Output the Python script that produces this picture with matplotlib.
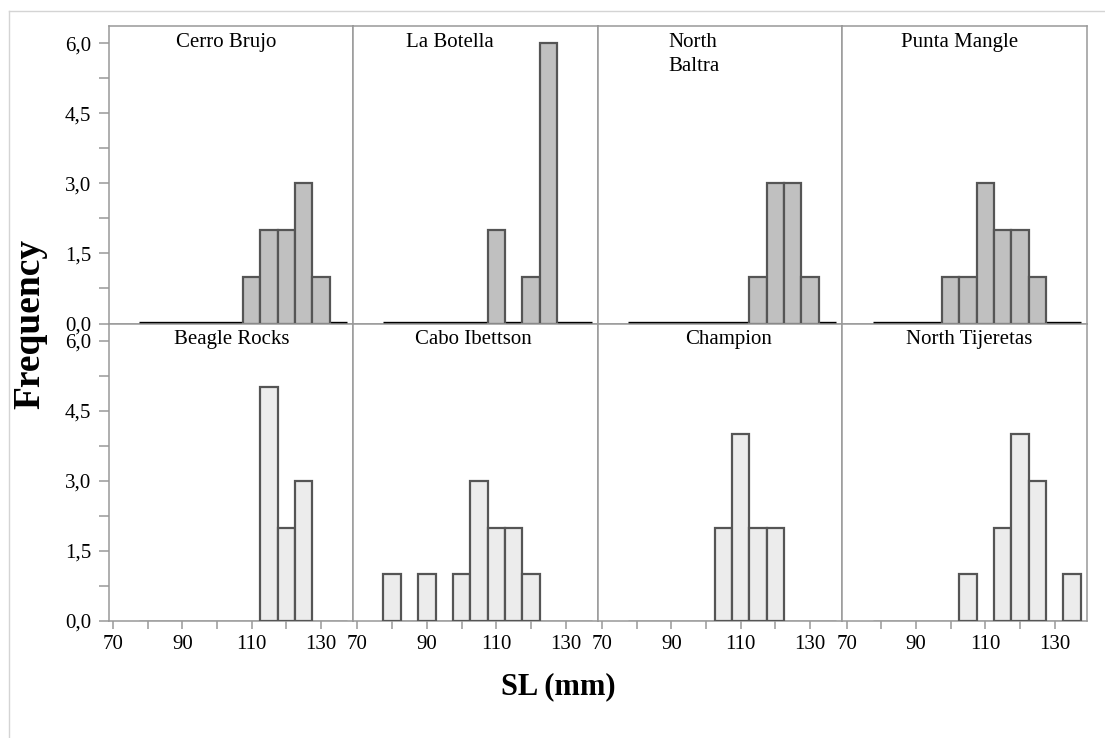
import numpy as np
import matplotlib
matplotlib.use("Agg")
import matplotlib.pyplot as plt
from matplotlib.ticker import FixedLocator, FuncFormatter
from matplotlib.lines import Line2D

plt.rcParams['font.family'] = ['Liberation Serif', 'DejaVu Serif']

# --- data: SL bin centres (5 mm bins) and counts per site ---
bin_centers = [80, 85, 90, 95, 100, 105, 110, 115, 120, 125, 130, 135]
bin_width = 5

sites_top = ["Cerro Brujo", "La Botella", "North\nBaltra", "Punta Mangle"]
sites_bottom = ["Beagle Rocks", "Cabo Ibettson", "Champion", "North Tijeretas"]

cerro_brujo     = [0, 0, 0, 0, 0, 0, 1, 2, 2, 3, 1, 0]
la_botella      = [0, 0, 0, 0, 0, 0, 2, 0, 1, 6, 0, 0]
north_baltra    = [0, 0, 0, 0, 0, 0, 0, 1, 3, 3, 1, 0]
punta_mangle    = [0, 0, 0, 0, 1, 1, 3, 2, 2, 1, 0, 0]
beagle_rocks    = [0, 0, 0, 0, 0, 0, 0, 5, 2, 3, 0, 0]
cabo_ibettson   = [1, 0, 1, 0, 1, 3, 2, 2, 1, 0, 0, 0]
champion        = [0, 0, 0, 0, 0, 2, 4, 2, 2, 0, 0, 0]
north_tijeretas = [0, 0, 0, 0, 0, 1, 0, 2, 4, 3, 0, 1]

counts_top = [cerro_brujo, la_botella, north_baltra, punta_mangle]
counts_bottom = [beagle_rocks, cabo_ibettson, champion, north_tijeretas]

x_major = [70, 90, 110, 130]
x_minor = [80, 100, 120]
y_major = [0, 1.5, 3, 4.5, 6]
y_minor = [0.75, 2.25, 3.75, 5.25]

# title anchors (axes fraction) for each panel
title_x_top = [0.48, 0.395, 0.289, 0.478]
title_x_bottom = [0.504, 0.493, 0.534, 0.517]

BORDER = '#999999'
EDGE = '#555555'

fig, axes = plt.subplots(2, 4, figsize=(11.05, 7.38), dpi=100)
fig.subplots_adjust(left=0.0984, right=0.9837, top=0.9648, bottom=0.1585,
                    wspace=0, hspace=0)

comma = FuncFormatter(lambda v, p: f"{v:.1f}".replace('.', ','))
lo = bin_centers[0] - bin_width / 2
hi = bin_centers[-1] + bin_width / 2

for row in range(2):
    for col in range(4):
        ax = axes[row, col]
        if row == 0:
            vals, name, tx = counts_top[col], sites_top[col], title_x_top[col]
            fill, base_c, base_w, base_y = '#c0c0c0', 'black', 2.4, 0.02
        else:
            vals, name, tx = counts_bottom[col], sites_bottom[col], title_x_bottom[col]
            fill, base_c, base_w, base_y = '#ececec', EDGE, 0.9, 0.0

        ax.hlines(base_y, lo, hi, color=base_c, lw=base_w, zorder=3)
        xs = [c for c, v in zip(bin_centers, vals) if v > 0]
        hs = [v for v in vals if v > 0]
        ax.bar(xs, hs, width=bin_width, color=fill, edgecolor=EDGE,
               linewidth=1.6, zorder=3.5)

        ax.set_xlim(68.8, 139.3)
        ax.set_ylim(0, 6.37)

        for s in ax.spines.values():
            s.set_color(BORDER)
            s.set_linewidth(1.1)

        ax.yaxis.set_major_locator(FixedLocator(y_major))
        ax.yaxis.set_minor_locator(FixedLocator(y_minor))
        ax.yaxis.set_major_formatter(comma)
        ax.xaxis.set_major_locator(FixedLocator(x_major))
        ax.xaxis.set_minor_locator(FixedLocator(x_minor))

        ax.tick_params(axis='y', which='both', direction='out', length=7.2,
                       width=1.1, color=BORDER, labelsize=15, pad=5.5,
                       left=(col == 0), labelleft=(col == 0))
        ax.tick_params(axis='x', which='major', direction='out', length=6,
                       width=1.1, color=BORDER, labelsize=15, pad=4,
                       bottom=(row == 1), labelbottom=(row == 1))
        ax.tick_params(axis='x', which='minor', direction='out', length=6,
                       width=1.1, color=BORDER, bottom=(row == 1))

        ha = 'left' if '\n' in name else 'center'
        ax.text(tx, 0.978, name, transform=ax.transAxes, ha=ha, va='top',
                fontsize=15, linespacing=1.4, zorder=5)

fig.text(0.027, 0.561, "Frequency", rotation=90, ha='center', va='center',
         fontsize=27, fontweight='bold')
fig.text(0.505, 0.07, "SL (mm)", ha='center', va='center',
         fontsize=22, fontweight='bold')

# light outer frame
fx0, fy0 = 9 / 1105, 1 - 11 / 738
fig.add_artist(Line2D([fx0, 1.0], [fy0, fy0], color='#d4d4d4', lw=1,
                      transform=fig.transFigure))
fig.add_artist(Line2D([fx0, fx0], [0, fy0], color='#d4d4d4', lw=1,
                      transform=fig.transFigure))

fig.savefig("out.png", dpi=100)
